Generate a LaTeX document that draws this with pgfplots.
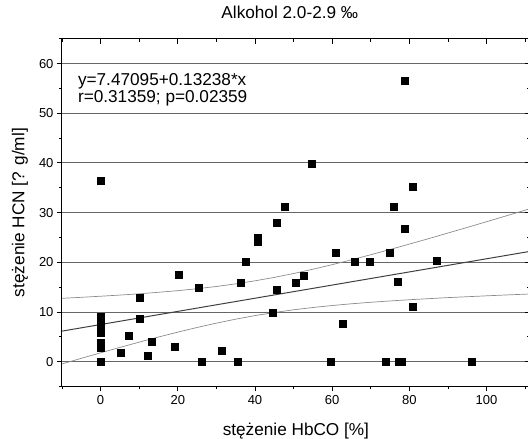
\documentclass[border=0pt]{standalone}
\usepackage{pgfplots}
\pgfplotsset{compat=1.18}
\usepackage{fontspec}
\setmainfont{Liberation Sans}
\begin{document}
\begin{tikzpicture}
\pgfplotsset{
  common/.style={
    at={(0,0)}, anchor=south west,
    scale only axis, width=467.8pt, height=347.8pt,
    xmin=-10, xmax=111.2, ymin=-5, ymax=65,
    xtick={0,20,...,100}, ytick={0,10,...,60},
    minor xtick={-10,10,30,50,70,90,110}, minor ytick={-5,5,...,65},
    major tick length=5pt, minor tick length=3pt,
    axis line style={line width=1pt},
    every tick/.style={black, line width=0.9pt},
  }
}
\begin{axis}[common,
  xtick pos=left, ytick pos=left, tick align=outside,
  ymajorgrids, major grid style={black!60, line width=0.9pt},
  ticklabel style={font=\fontsize{13}{15}\selectfont},
  /pgf/number format/assume math mode=true,
  xlabel={stężenie HbCO [\%]},
  ylabel={stężenie HCN [? g/ml]},
  title={Alkohol 2.0-2.9 ‰},
  xlabel style={font=\fontsize{17.2}{20}\selectfont, at={(axis description cs:0.5,-0.1423)}, anchor=base},
  ylabel style={font=\fontsize{17.2}{20}\selectfont, at={(axis description cs:-0.0898,0.5)}, anchor=center},
  title style={font=\fontsize{17.2}{20}\selectfont, at={(axis description cs:0.487,1.0394)}, anchor=base},
]
\addplot[black!45, line width=0.7pt] coordinates {
(-10,12.75) (-5,12.95) (0,13.17) (5,13.40) (10,13.66) (15,13.96) (20,14.29) (25,14.68) (30,15.13) (35,15.66) (40,16.27) (45,16.96) (50,17.74) (55,18.60) (60,19.52) (65,20.50) (70,21.52) (75,22.58) (80,23.66) (85,24.76) (90,25.89) (95,27.02) (100,28.17) (105,29.32) (110,30.49) (111.2,30.77)};
\addplot[black!45, line width=0.7pt] coordinates {
(-10,-0.46) (-5,0.67) (0,1.78) (5,2.86) (10,3.93) (15,4.96) (20,5.94) (25,6.88) (30,7.75) (35,8.55) (40,9.27) (45,9.89) (50,10.44) (55,10.90) (60,11.30) (65,11.65) (70,11.95) (75,12.22) (80,12.46) (85,12.68) (90,12.89) (95,13.07) (100,13.25) (105,13.42) (110,13.58) (111.2,13.62)};
\addplot[black!75, line width=1pt] coordinates {(-10,6.147) (111.2,22.19)};
\addplot[only marks, mark=square*, mark size=3.5pt, black] coordinates {
(0,36.5) (0,0) (0,0) (0,2.8) (0,3.9) (0,5.8) (0,6.6) (0,7.4) (0,8.2) (0,9.1)
(40.6,24.9) (40.6,24.1) (37.5,20.2) (20.3,17.6) (25.3,14.8) (36.4,15.8)
(10.2,12.9) (10.2,8.7) (7.2,5.2) (5.2,1.8) (13.2,4.0) (12.3,1.1) (19.2,3.0)
(26.3,0) (31.4,2.2) (35.4,0)
(78.9,56.5) (54.7,39.9) (80.9,35.2) (47.6,31.1) (75.9,31.1) (45.6,27.9)
(78.9,26.8) (60.8,21.9) (74.9,21.9) (65.8,20.1) (69.8,20.1) (87.0,20.3)
(52.7,17.4) (50.6,15.8) (45.6,14.5) (76.9,16.0) (44.6,9.9) (80.9,11.0)
(62.8,7.6) (59.7,0) (73.8,0) (77.3,0) (78.0,0) (96.1,0)};
\node[anchor=base west, font=\fontsize{17.2}{20}\selectfont, inner sep=0pt] at (axis cs:-5.9,55.5) {y=7.47095+0.13238*x};
\node[anchor=base west, font=\fontsize{17.2}{20}\selectfont, inner sep=0pt] at (axis cs:-5.9,52.1) {r=0.31359; p=0.02359};
\end{axis}
\begin{axis}[common,
  xtick pos=right, ytick pos=right, tick align=inside,
  xticklabels={}, yticklabels={},
]
\end{axis}
\pgfresetboundingbox
\path (-62pt,-52.5pt) rectangle (466pt,386.5pt);
\end{tikzpicture}
\end{document}
